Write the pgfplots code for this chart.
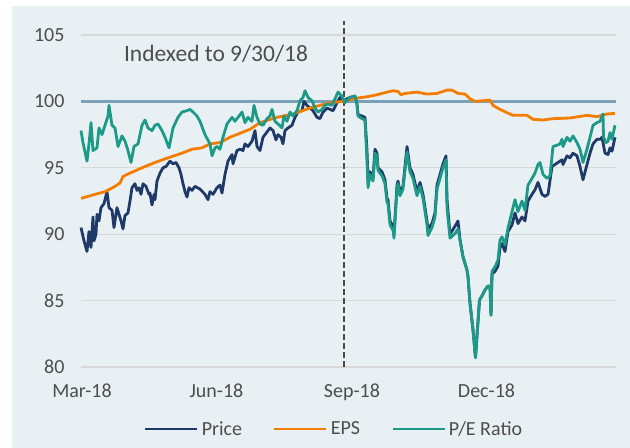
\documentclass[border=0pt]{standalone}
\usepackage{pgfplots}
\pgfplotsset{compat=1.18}
\usepackage{fontspec}
\setmainfont{Carlito}
\definecolor{bgpanel}{HTML}{E9F0F3}
\definecolor{pricec}{HTML}{1F3A68}
\definecolor{epsc}{HTML}{F27D00}
\definecolor{pec}{HTML}{1C9A87}
\definecolor{steel}{HTML}{7BA1B8}
\definecolor{gridc}{HTML}{D8D8D8}
\definecolor{txt}{HTML}{4D4D4D}
\definecolor{dashc}{HTML}{4A4A4A}
\begin{document}
\begin{tikzpicture}
\fill[white] (-81bp,-81bp) rectangle (549bp,367bp);
\fill[bgpanel] (-69bp,-81bp) rectangle (549bp,361bp);
\begin{axis}[
  at={(0,0)}, anchor=south west,
  scale only axis, width=535bp, height=332bp,
  xmin=81, xmax=616, ymin=80, ymax=105,
  xtick={82,216.5,352,486.5},
  xticklabels={Mar-18,Jun-18,Sep-18,Dec-18},
  ytick={80,85,90,95,100,105},
  axis line style={draw=none},
  major tick length=0pt,
  ymajorgrids, grid style={gridc, line width=1.3bp},
  /pgf/number format/assume math mode=true,
  every tick label/.append style={font=\fontsize{20bp}{24bp}\selectfont, text=txt},
  yticklabel style={xshift=-13bp},
  xticklabel style={yshift=-13bp},
  clip=false,
  legend columns=3,
  legend style={at={(0.474,-0.1867)}, anchor=center, draw=none, fill=none,
    font=\fontsize{20bp}{24bp}\selectfont, text=txt,
    column sep=0pt, inner sep=0pt, nodes={inner sep=3bp},
    /tikz/every even column/.append style={column sep=28bp}},
  legend image code/.code={\draw[#1] (0bp,0bp) -- (52bp,0bp);},
]
\addplot[steel, line width=3bp, forget plot] coordinates {(81,100) (616,100)};
\draw[dashc, line width=2.8bp, dash pattern=on 6bp off 3bp] (axis cs:344,80) -- (axis cs:344,106.05);
\node[font=\fontsize{23.5bp}{28bp}\selectfont, text=txt] at (axis cs:216,103.6) {Indexed to 9/30/18};

\addplot[pricec, line width=2.8bp, line join=round] coordinates {
(81,90.5) (84,89.5) (87,88.7) (89,90.2) (91,89.0) (93,91.3) (94,89.5) (96,90.0) (97,91.5) (99,91.0)
(101,92.0) (104,92.3) (107,93.2) (109,92.0) (112,91.8) (114,90.5) (117,92.0) (119,91.5) (121,91.0) (123,90.4)
(125,91.4) (128,91.6) (130,92.5) (132,93.5) (135,93.8) (137,93.3) (139,93.5) (141,93.0) (143,93.8) (146,93.6)
(149,93.0) (150,93.1) (152,92.2) (154,93.0) (155,92.6) (157,94.0) (160,94.6) (163,95.0) (166,95.1) (170,95.5)
(173,95.3) (176,95.4) (179,95.0) (181,94.5) (183,93.8) (185,93.2) (187,92.8) (189,93.5) (192,93.3) (195,93.6)
(200,93.4) (205,93.0) (208,92.6) (210,93.2) (213,93.0) (217,93.5) (220,93.7) (222,93.1) (225,94.5) (228,95.5)
(232,96.0) (233,95.3) (237,96.3) (240,96.4) (243,96.3) (245,96.8) (248,96.6) (252,97.0) (255,97.8) (257,96.6)
(260,96.3) (263,97.3) (267,97.7) (270,98.0) (273,97.8) (276,97.1) (278,97.5) (281,97.3) (283,96.8) (285,97.8)
(288,98.0) (292,98.2) (295,98.8) (298,99.2) (302,99.3) (304,100.0) (307,99.7) (310,99.5) (313,99.3) (317,98.8)
(320,98.7) (323,99.2) (327,99.5) (330,99.4) (333,99.3) (337,99.9) (340,100.3) (343,100.0) (347,100.2) (350,100.3)
(355,100.4) (357,99.8) (358,99.0) (362,98.9) (365,98.8) (367,96.3) (368,94.0) (370,94.7) (373,94.2) (375,96.4)
(377,96.1) (378,95.0) (382,94.7) (385,94.1) (387,92.7) (388,92.6) (390,91.0) (393,90.6) (394,90.0) (397,93.7)
(398,94.0) (400,93.2) (403,93.6) (407,96.6) (410,95.0) (413,94.5) (417,93.2) (420,93.9) (423,93.0) (427,91.0)
(428,90.4) (432,90.8) (435,91.6) (437,93.7) (440,94.5) (443,95.3) (446,95.9) (447,92.6) (450,90.0) (455,90.6)
(458,91.0) (460,89.6) (463,88.3) (467,87.3) (468,86.8) (470,84.8) (473,82.8) (475.5,80.7) (477.5,82.9) (479.5,85.05)
(482,85.35) (485,85.8) (488,86.1) (490,86.05) (491,83.9) (492,87.0) (495,87.2) (498,87.6) (500,89.0) (502,89.3)
(505,88.7) (508,90.2) (512,90.7) (515,91.6) (518,90.8) (522,91.3) (525,91.0) (528,92.5) (532,93.0) (535,93.35)
(538,93.9) (542,93.0) (545,92.85) (548,93.0) (552,95.1) (555,95.25) (558,95.4) (562,95.6) (563,95.25) (567,95.9)
(570,95.75) (573,96.1) (577,95.9) (580,95.1) (583,94.1) (587,95.25) (590,96.1) (593,96.8) (597,97.15) (600,97.15)
(602,97.3) (605,96.1) (608,96.0) (610,96.5) (612,96.25) (615,97.3)
};
\addlegendentry{Price}

\addplot[epsc, line width=2.8bp, line join=round] coordinates {
(81,92.7) (95,93.0) (105,93.2) (115,93.6) (120,93.85) (123,94.35) (130,94.6) (142,95.0) (155,95.4) (168,95.75)
(182,96.1) (192,96.4) (202,96.5) (210,96.8) (220,96.9) (230,97.3) (250,97.9) (260,98.4) (277,98.8) (293,99.05)
(310,99.5) (320,99.7) (330,99.9) (343,100.0) (357,100.25) (367,100.35) (377,100.5) (387,100.7) (393,100.8) (398,100.75)
(401,100.5) (405,100.6) (417,100.7) (427,100.55) (437,100.6) (447,100.85) (452,100.85) (458,100.6) (465,100.55) (470,100.2)
(475,100.0) (483,100.05) (490,100.1) (493,99.7) (500,99.4) (507,99.15) (513,98.95) (527,98.95) (533,98.65) (543,98.6)
(553,98.7) (570,98.75) (587,98.95) (597,98.85) (607,99.05) (615,99.1)
};
\addlegendentry{EPS}

\addplot[pec, line width=2.8bp, line join=round] coordinates {
(81,97.8) (83,96.9) (87,95.5) (89,96.8) (91,98.4) (93,96.3) (97,96.5) (99,98.0) (102,97.5) (105,98.2)
(108,98.9) (109,99.7) (112,98.2) (115,98.0) (118,96.6) (122,97.4) (125,97.0) (128,96.3) (131,95.4) (134,96.6)
(138,96.8) (142,98.2) (145,98.6) (148,98.0) (152,97.8) (155,98.2) (158,98.3) (162,97.8) (165,97.3) (169,96.5)
(173,98.0) (178,98.8) (182,99.2) (187,99.3) (190,99.4) (193,99.2) (197,98.9) (200,98.5) (205,97.5) (210,96.8)
(212,95.9) (215,96.5) (217,96.6) (220,96.4) (223,97.3) (227,98.3) (232,98.8) (235,98.5) (238,98.8) (242,99.2)
(245,98.4) (248,98.8) (252,98.5) (254,99.7) (257,98.8) (260,98.3) (263,98.2) (267,98.7) (270,98.9) (272,99.4)
(275,98.5) (278,98.3) (282,98.0) (284,98.9) (287,98.5) (290,99.2) (293,98.9) (297,99.3) (300,100.05) (303,100.3)
(305,100.8) (308,100.3) (312,100.05) (315,99.5) (318,99.2) (322,99.4) (325,99.7) (328,99.8) (332,99.7) (335,100.2)
(338,100.7) (342,100.4) (345,99.9) (350,100.3) (355,100.4) (357,99.8) (358,98.9) (362,98.7) (365,98.6) (367,95.5)
(368,93.5) (370,94.5) (373,94.0) (375,96.1) (377,95.9) (378,94.8) (382,94.4) (385,93.8) (387,92.4) (388,92.3)
(390,90.7) (393,90.3) (394,89.7) (397,93.4) (398,93.8) (400,92.9) (403,93.4) (407,96.2) (410,94.7) (413,94.2)
(417,92.9) (420,93.6) (423,92.7) (427,90.7) (428,89.9) (432,90.5) (435,91.3) (437,93.4) (440,94.2) (443,95.0)
(446,95.6) (447,92.0) (450,89.7) (455,90.05) (458,90.4) (460,89.55) (463,88.3) (467,87.3) (468,86.8) (470,84.8)
(473,82.8) (475.5,80.7) (477.5,82.9) (479.5,85.05) (482,85.35) (485,85.8) (488,86.1) (490,86.05) (491,83.9) (492,87.2)
(495,87.55) (498,88.05) (500,89.55) (502,89.8) (505,89.2) (508,90.45) (512,91.7) (515,92.6) (518,91.7) (522,92.5)
(525,91.8) (528,93.7) (532,94.2) (535,94.6) (538,95.25) (540,95.4) (543,94.5) (547,94.2) (550,94.4) (553,96.6)
(557,96.7) (560,96.8) (562,97.15) (563,96.6) (567,97.3) (570,97.0) (573,97.4) (577,96.9) (580,96.4) (583,95.4)
(587,96.4) (590,97.3) (593,98.2) (597,98.4) (600,98.5) (603,99.05) (603.5,97.3) (606,96.9) (608,97.0) (610,97.65)
(612,97.15) (615,98.2)
};
\addlegendentry{P/E Ratio}
\end{axis}
\pgfresetboundingbox
\useasboundingbox (-81bp,-81bp) rectangle (549bp,367bp);
\end{tikzpicture}
\end{document}
